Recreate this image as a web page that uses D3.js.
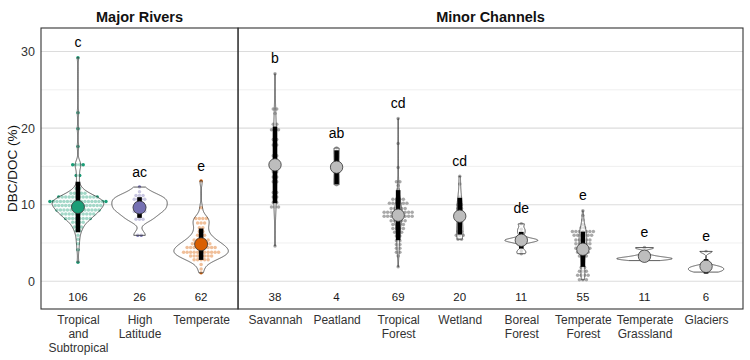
<!DOCTYPE html>
<html><head><meta charset="utf-8">
<script src="https://cdn.jsdelivr.net/npm/d3@7"></script>
<style>body{margin:0;background:#fff}svg{display:block;font-family:"Liberation Sans",Arial,Helvetica,sans-serif}</style>
</head><body><svg id="chart" width="750" height="360"></svg>
<script>
// ---------------- data ----------------
const panels = ["Major Rivers", "Minor Channels"];
const categories = ["Tropical\nand\nSubtropical", "High\nLatitude", "Temperate",
  "Savannah", "Peatland", "Tropical\nForest", "Wetland", "Boreal\nForest",
  "Temperate\nForest", "Temperate\nGrassland", "Glaciers"];
const panelOf = [0, 0, 0, 1, 1, 1, 1, 1, 1, 1, 1];
const counts = [106, 26, 62, 38, 4, 69, 20, 11, 55, 11, 6];
const letters = ["c", "ac", "e", "b", "ab", "cd", "cd", "de", "e", "e", "e"];
const means = [9.7, 9.63, 4.84, 15.2, 14.9, 8.63, 8.5, 5.36, 4.18, 3.27, 1.95];
const sds = [3.3, 1.35, 2.05, 5.0, 2.2, 3.27, 2.4, 1.09, 2.3, 0.55, 0.95];
const yTicks = [0, 10, 20, 30];
const yMinor = [5, 15, 25];

const tropicalSubtropical = [29.2, 22.0, 19.9, 17.6, 15.2, 15.2, 15.2, 15.2, 13.8, 13.8, 12.6, 12.1, 12.1,
  11.5, 11.5, 11.5, 11.5, 11.5,
  11.0, 11.0, 11.0, 11.0, 11.0, 11.0, 11.0, 11.0, 11.0, 11.0, 11.0, 11.0,
  10.4, 10.4, 10.4, 10.4, 10.4, 10.4, 10.4, 10.4, 10.4, 10.4, 10.4, 10.4, 10.4, 10.4, 10.4, 10.4, 10.4,
  9.9, 9.9, 9.9, 9.9, 9.9, 9.9, 9.9, 9.9, 9.9, 9.9, 9.9, 9.9, 9.9, 9.9,
  9.3, 9.3, 9.3, 9.3, 9.3, 9.3, 9.3, 9.3, 9.3, 9.3, 9.3, 9.3, 9.3,
  8.8, 8.8, 8.8, 8.8, 8.8, 8.8, 8.8, 8.8, 8.8, 8.8,
  8.2, 8.2, 8.2, 8.2, 8.2, 8.2, 8.2, 8.2,
  7.7, 7.7, 7.7, 7.7, 7.1, 7.1, 7.1, 6.6, 6.6, 6.0, 5.5, 4.9, 4.1, 2.5];
const highLatitude = [12.3, 11.7, 11.2, 11.2, 11.2, 10.7, 10.7, 10.7, 10.7, 10.2, 10.2, 10.2,
  9.7, 9.7, 9.7, 9.7, 9.1, 9.1, 9.1, 9.1, 8.6, 8.1, 8.1, 8.1, 6.0, 6.0];
const temperate = [13.1, 9.6, 8.2, 8.2, 8.2, 8.2, 7.6, 7.6, 7.6, 7.0, 7.0, 6.5, 6.5,
  6.0, 6.0, 6.0, 5.4, 5.4, 5.4, 5.4, 5.4, 4.9, 4.9, 4.9, 4.9, 4.9, 4.9,
  4.4, 4.4, 4.4, 4.4, 4.4, 4.4, 4.4, 4.4, 4.4,
  3.8, 3.8, 3.8, 3.8, 3.8, 3.8, 3.8, 3.8, 3.8, 3.8, 3.8,
  3.3, 3.3, 3.3, 3.3, 3.3, 3.3, 3.3, 2.8, 2.8, 2.8, 2.8, 2.8, 2.2, 1.6, 1.1];
const savannah = [27.1, 22.5, 22.5, 21.9, 20.5, 20.5, 19.8, 19.8, 19.8, 19.2, 18.5, 18.5, 17.8, 17.8,
  17.0, 16.4, 16.4, 15.7, 15.7, 15.0, 15.0, 14.3, 14.3, 13.6, 13.6, 13.0, 13.0, 12.3, 11.6, 11.6,
  11.0, 11.0, 10.3, 10.3, 9.7, 9.7, 9.7, 4.6];
const peatland = [12.6, 12.9, 16.9, 17.4];
const tropicalForest = [21.25, 18.0, 14.85, 13.0, 13.0, 12.5, 12.0, 11.4,
  10.7, 10.7, 10.7, 10.7, 10.2, 10.2, 10.2, 10.2, 10.2, 10.2, 9.5, 9.5, 9.5, 9.5, 9.5,
  9.0, 9.0, 9.0, 9.0, 9.0, 9.0, 9.0, 9.0, 9.0, 8.5, 8.5, 8.5, 8.5, 8.5, 8.5, 8.5, 8.5, 8.5,
  7.9, 7.9, 7.9, 7.9, 7.9, 7.4, 7.4, 7.4, 7.4, 6.9, 6.9, 6.9, 6.9, 6.4, 6.4, 6.4,
  5.9, 5.9, 5.3, 5.3, 4.8, 4.8, 4.3, 4.3, 3.8, 3.8, 3.3, 1.9];
const wetland = [13.7, 12.7, 11.0, 10.5, 10.0, 10.0, 9.5, 9.5, 9.0, 8.5, 8.0, 7.5, 7.0,
  6.5, 6.5, 6.0, 6.0, 6.0, 5.5, 5.5];
const borealForest = [7.5, 6.8, 6.3, 5.5, 5.4, 5.4, 5.3, 5.3, 5.2, 4.0, 3.6];
const temperateForest = [9.2, 8.6, 8.0, 7.4, 7.0, 7.0, 6.5, 6.5, 6.5, 6.5, 6.5, 6.5, 6.5,
  6.0, 6.0, 6.0, 6.0, 6.0, 6.0, 5.4, 5.4, 5.4, 5.4, 5.4, 4.9, 4.9, 4.9, 4.9, 4.9,
  4.3, 4.3, 4.3, 4.3, 4.3, 3.8, 3.8, 3.8, 3.8, 3.3, 3.3, 3.3, 2.8, 2.3, 1.8, 1.8,
  1.3, 1.3, 1.3, 0.8, 0.8, 0.8, 0.8, 0.2, 0.2, 0.2];
const temperateGrassland = [4.4, 4.3, 3.4, 3.2, 3.1, 3.0, 3.0, 2.9, 2.9, 2.8, 2.7];
const glaciers = [3.9, 2.0, 1.8, 1.6, 1.4, 1.2];

const values = [tropicalSubtropical, highLatitude, temperate, savannah, peatland, tropicalForest,
  wetland, borealForest, temperateForest, temperateGrassland, glaciers];

// ---------------- layout ----------------
const svg = d3.select("#chart");
const plotTop = 28, plotBottom = 309;
const panelX = [[41, 238.05], [238.05, 743]];
const y = d3.scaleLinear().domain([-3.62, 33.07]).range([plotBottom, plotTop]);
const groupColor = d3.scaleOrdinal().domain(categories.slice(0, 3))
  .range(["#1b9e77", "#7570b3", "#d95f02"]).unknown("#a9a9a9");
const meanFill = d3.scaleOrdinal().domain(categories.slice(0, 3))
  .range(["#1b9e77", "#7570b3", "#d95f02"]).unknown("#bdbdbd");

const xScales = panels.map((p, pi) => d3.scalePoint()
  .domain(categories.filter((c, i) => panelOf[i] === pi))
  .range(panelX[pi]).padding(0.6));
const xOf = i => xScales[panelOf[i]](categories[i]);

// ---- KDE (gaussian, nrd0 bandwidth, trimmed to range) ----
function nrd0(v) {
  const s = d3.sort(v);
  const sd = d3.deviation(s);
  const iqr = d3.quantileSorted(s, 0.75) - d3.quantileSorted(s, 0.25);
  let lo = Math.min(sd, iqr / 1.34);
  if (!(lo > 0)) lo = sd || Math.abs(s[0]) || 1;
  return 0.9 * lo * Math.pow(s.length, -0.2);
}
function kde(v) {
  const bw = nrd0(v), lo = d3.min(v), hi = d3.max(v), n = 512;
  const pts = [];
  for (let k = 0; k < n; k++) {
    const t = lo + (hi - lo) * k / (n - 1);
    let s = 0;
    for (const x of v) { const u = (t - x) / bw; s += Math.exp(-0.5 * u * u); }
    pts.push([t, s / (v.length * bw * Math.sqrt(2 * Math.PI))]);
  }
  return pts;
}
const dens = values.map(kde);
const panelMax = panels.map((p, pi) => d3.max(dens.filter((d, i) => panelOf[i] === pi), d => d3.max(d, e => e[1])));

// ---------------- grid & strips ----------------
panels.forEach((p, pi) => {
  const [x0, x1] = panelX[pi];
  const g = svg.append("g");
  g.selectAll(".minor").data(yMinor).join("line")
    .attr("x1", x0).attr("x2", x1).attr("y1", d => y(d)).attr("y2", d => y(d))
    .attr("stroke", "#ebebeb").attr("stroke-width", 0.8);
  g.selectAll(".major").data(yTicks).join("line")
    .attr("x1", x0).attr("x2", x1).attr("y1", d => y(d)).attr("y2", d => y(d))
    .attr("stroke", "#dcdcdc").attr("stroke-width", 1.1);
  svg.append("text").attr("x", (x0 + x1) / 2).attr("y", 22).attr("text-anchor", "middle")
    .attr("font-weight", "bold").attr("font-size", 14.5).attr("fill", "#111").text(p);
});

// ---------------- marks ----------------
const step = xScales[0].step();
const halfMax = 0.9 * step / 2;
const dotR = 1.75, dotGap = 3.5;

values.forEach((v, i) => {
  const cx = xOf(i);
  const g = svg.append("g");
  // dots
  const rows = d3.rollups(v, r => r.length, d => d);
  rows.forEach(([val, k]) => {
    for (let j = 0; j < k; j++) {
      g.append("circle").attr("cx", cx + (j - (k - 1) / 2) * dotGap).attr("cy", y(val))
        .attr("r", dotR).attr("fill", groupColor(categories[i]));
    }
  });
  // violin
  const m = panelMax[panelOf[i]];
  const area = d3.area()
    .y(d => y(d[0]))
    .x0(d => cx - d[1] / m * halfMax)
    .x1(d => cx + d[1] / m * halfMax);
  g.append("path").datum(dens[i]).attr("d", area)
    .attr("fill", "#fff").attr("fill-opacity", 0.6)
    .attr("stroke", "#333").attr("stroke-width", 0.8);
  // mean ± sd bar
  g.append("rect").attr("x", cx - 2.3).attr("width", 4.6)
    .attr("y", y(means[i] + sds[i])).attr("height", y(means[i] - sds[i]) - y(means[i] + sds[i]))
    .attr("fill", "#000");
  // mean point
  g.append("circle").attr("cx", cx).attr("cy", y(means[i]))
    .attr("r", panelOf[i] === 0 ? 6.5 : 6.2)
    .attr("fill", meanFill(categories[i])).attr("stroke", "#333").attr("stroke-width", 0.8);
  // letter
  g.append("text").attr("x", cx).attr("y", y(d3.max(v) + 2)).attr("dy", "0.35em")
    .attr("text-anchor", "middle").attr("font-size", 14).attr("fill", "#000").text(letters[i]);
  // count
  g.append("text").attr("x", cx).attr("y", y(-2)).attr("dy", "0.35em")
    .attr("text-anchor", "middle").attr("font-size", 11.5).attr("fill", "#1a1a1a").text(counts[i]);
});

// frames
panels.forEach((p, pi) => {
  const [x0, x1] = panelX[pi];
  svg.append("rect").attr("x", x0).attr("y", plotTop).attr("width", x1 - x0).attr("height", plotBottom - plotTop)
    .attr("fill", "none").attr("stroke", "#333").attr("stroke-width", 1.1);
});

// ---------------- axes ----------------
const yAxis = svg.append("g").attr("transform", `translate(${panelX[0][0]},0)`)
  .call(d3.axisLeft(y).tickValues(yTicks).tickSize(0).tickPadding(6));
yAxis.select(".domain").remove();
yAxis.selectAll("text").attr("font-size", 12.5).attr("fill", "#333").attr("font-family", null);

xScales.forEach((xs, pi) => {
  const ax = svg.append("g").attr("transform", `translate(0,${plotBottom})`)
    .call(d3.axisBottom(xs).tickSize(0).tickPadding(0));
  ax.select(".domain").remove();
  ax.selectAll("text").each(function (d) {
    const t = d3.select(this).text("").attr("font-size", 12).attr("fill", "#333")
      .attr("font-family", null).attr("y", 0).attr("dy", null);
    d.split("\n").forEach((line, li) => {
      t.append("tspan").attr("x", 0).attr("y", 15 + li * 13.8).text(line);
    });
  });
});

svg.append("text").attr("transform", `translate(16.5,${(plotTop + plotBottom) / 2}) rotate(-90)`)
  .attr("text-anchor", "middle").attr("font-size", 13.5).attr("fill", "#111").text("DBC/DOC (%)");
</script></body></html>
